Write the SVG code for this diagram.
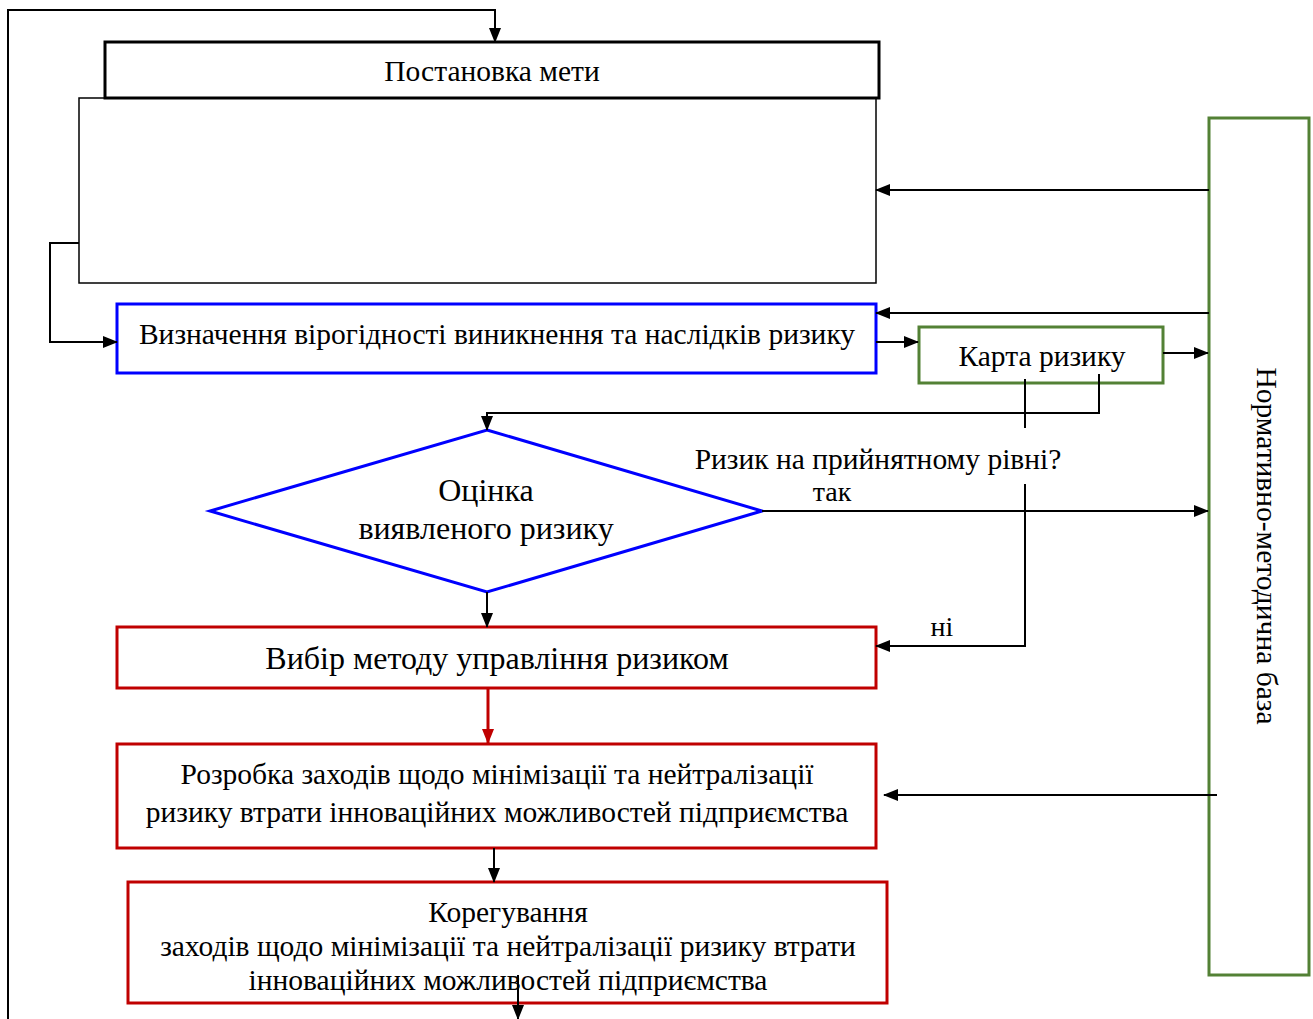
<svg xmlns="http://www.w3.org/2000/svg" width="1313" height="1019" viewBox="0 0 1313 1019">
<style>
text{font-family:"Liberation Serif","Times New Roman",serif;fill:#000;text-anchor:middle}
.t24{font-size:29.5px}
.t26{font-size:32px}
.t22{font-size:28px}
.ln{fill:none;stroke:#000;stroke-width:2}
.blue{fill:#fff;stroke:#0000ff;stroke-width:3}
.red{fill:#fff;stroke:#c00000;stroke-width:3}
.green{fill:#fff;stroke:#538135;stroke-width:3}
</style>
<defs>
<marker id="ah" markerWidth="15" markerHeight="12" refX="14" refY="6" orient="auto" markerUnits="userSpaceOnUse"><path d="M0,0 L15,6 L0,12 Z" fill="#000"/></marker>
<marker id="ahr" markerWidth="15" markerHeight="12" refX="14" refY="6" orient="auto" markerUnits="userSpaceOnUse"><path d="M0,0 L15,6 L0,12 Z" fill="#c00000"/></marker>
</defs>
<rect width="1313" height="1019" fill="#fff"/>
<g id="empty-box"><rect x="79" y="98" width="797" height="185" fill="#fff" stroke="#000" stroke-width="1.5"/></g>
<g id="goal"><rect x="105" y="42" width="774" height="56" fill="#fff" stroke="#000" stroke-width="3"/><text class="t24" x="492" y="81">Постановка мети</text></g>
<g id="probability"><rect x="117" y="304" width="759" height="69" class="blue"/><text class="t24" x="497" y="344">Визначення вірогідності виникнення та наслідків ризику</text></g>
<g id="risk-map"><rect x="919" y="327" width="244" height="56" class="green"/><text class="t24" x="1042" y="366">Карта ризику</text></g>
<g id="normative-base"><rect x="1209" y="118" width="100" height="857" class="green"/><text class="t24" transform="translate(1257,546) rotate(90)">Нормативно-методична база</text></g>
<g id="assessment"><polygon points="487,430 762,511 487,592 210,511" class="blue"/><text class="t26" x="486" y="501">Оцінка</text><text class="t26" x="486" y="539">виявленого ризику</text></g>
<g id="method"><rect x="117" y="627" width="759" height="61" class="red"/><text class="t26" x="497" y="669">Вибір методу управління ризиком</text></g>
<g id="measures"><rect x="117" y="744" width="759" height="104" class="red"/><text class="t24" x="497" y="784">Розробка заходів щодо мінімізації та нейтралізації</text><text class="t24" x="497" y="822">ризику втрати інноваційних можливостей підприємства</text></g>
<g id="correction"><rect x="128" y="882" width="759" height="121" class="red"/><text class="t24" x="508" y="922">Корегування</text><text class="t24" x="508" y="956">заходів щодо мінімізації та нейтралізації ризику втрати</text><text class="t24" x="508" y="990">інноваційних можливостей підприємства</text></g>
<g id="connectors">
<path class="ln" d="M8,1019 V10 H495 V42" marker-end="url(#ah)"/>
<path class="ln" d="M79,243 H50 V342 H117" marker-end="url(#ah)"/>
<path class="ln" d="M1209,190 H876" marker-end="url(#ah)"/>
<path class="ln" d="M1209,313 H876" marker-end="url(#ah)"/>
<path class="ln" d="M876,342 H918" marker-end="url(#ah)"/>
<path class="ln" d="M1163,353 H1208" marker-end="url(#ah)"/>
<path class="ln" d="M1099,374 V413 H487 V430" marker-end="url(#ah)"/>
<path class="ln" d="M1025,379 V428"/>
<path class="ln" d="M1025,484 V646 H876" marker-end="url(#ah)"/>
<path class="ln" d="M762,511 H1208" marker-end="url(#ah)"/>
<path class="ln" d="M487,592 V627" marker-end="url(#ah)"/>
<path d="M488,688 V743" fill="none" stroke="#c00000" stroke-width="3" marker-end="url(#ahr)"/>
<path class="ln" d="M1217,795 H884" marker-end="url(#ah)"/>
<path class="ln" d="M494,848 V882" marker-end="url(#ah)"/>
<path class="ln" d="M518,975 V1019" marker-end="url(#ah)"/>
<text class="t24" x="878" y="469">Ризик на прийнятному рівні?</text>
<text class="t22" x="832" y="501">так</text>
<text class="t22" x="942" y="636">ні</text>
</g>
</svg>
